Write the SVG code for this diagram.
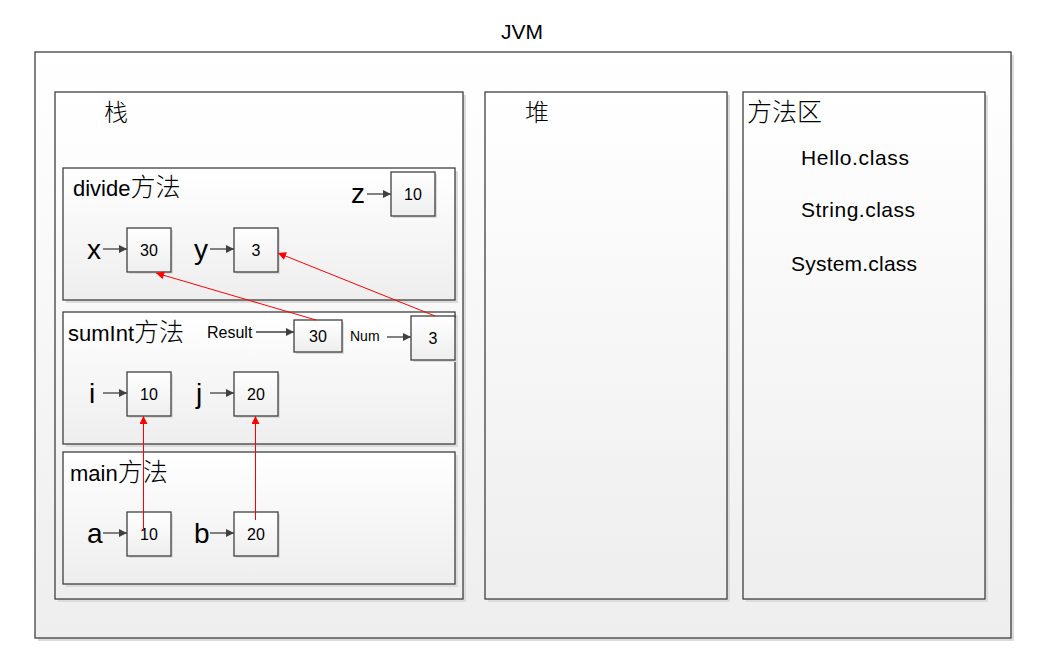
<svg xmlns="http://www.w3.org/2000/svg" width="1060" height="664" viewBox="0 0 1060 664">
<defs>
<linearGradient id="g" x1="0" y1="0" x2="0" y2="1">
<stop offset="0" stop-color="#ffffff"/>
<stop offset="1" stop-color="#eeeeee"/>
</linearGradient>
<marker id="ah" viewBox="0 0 10 10" refX="10" refY="5" markerWidth="11" markerHeight="8" orient="auto" markerUnits="userSpaceOnUse">
<path d="M0,0 L10,5 L0,10 z" fill="#404040"/>
</marker>
<marker id="rh" viewBox="0 0 10 10" refX="10" refY="5" markerWidth="11" markerHeight="8" orient="auto" markerUnits="userSpaceOnUse">
<path d="M0,0 L10,5 L0,10 z" fill="#ff0000"/>
</marker>
</defs>
<style>
.box{fill:url(#g);stroke:#404040;stroke-width:1.3}
.sh{fill:#dcdcdc}
.t{font-family:"Liberation Sans","Noto Sans CJK SC",sans-serif;fill:#000}
.c{font-family:"Noto Sans CJK SC",sans-serif;fill:#000;font-weight:300}
.cj{font-family:"Noto Sans CJK SC",sans-serif;font-size:25px;font-weight:300}
.lbl{font-family:"Liberation Sans",sans-serif;font-size:28px;fill:#000}
.num{font-family:"Liberation Sans",sans-serif;font-size:16px;fill:#000;text-anchor:middle}
.la{stroke:#404040;stroke-width:1.3;fill:none;marker-end:url(#ah)}
.ra{stroke:#ff0000;stroke-width:1;fill:none;marker-end:url(#rh)}
</style>
<rect width="1060" height="664" fill="#ffffff"/>
<text class="t" x="522" y="39" font-size="21" text-anchor="middle">JVM</text>

<g id="jvm">
<rect class="sh" x="38" y="55" width="976" height="586"/>
<rect class="box" x="35" y="52" width="976" height="586"/>
</g>

<g id="stack">
<rect class="sh" x="58" y="95" width="408" height="507"/>
<rect class="box" x="55" y="92" width="408" height="507"/>
<text class="c" x="104" y="121" font-size="24">栈</text>
</g>

<g id="heap">
<rect class="sh" x="488" y="95" width="242" height="507"/>
<rect class="box" x="485" y="92" width="242" height="507"/>
<text class="c" x="525" y="121" font-size="24">堆</text>
</g>

<g id="methodarea">
<rect class="sh" x="746" y="95" width="242" height="507"/>
<rect class="box" x="743" y="92" width="242" height="507"/>
<text class="c" x="747" y="121" font-size="25">方法区</text>
<text class="t" x="855" y="165" font-size="21" text-anchor="middle" textLength="108">Hello.class</text>
<text class="t" x="858" y="217" font-size="21" text-anchor="middle" textLength="114">String.class</text>
<text class="t" x="854" y="271" font-size="21" text-anchor="middle" textLength="126">System.class</text>
</g>

<g id="divide">
<rect class="sh" x="66" y="171" width="392" height="132"/>
<rect class="box" x="63" y="168" width="392" height="132"/>
<text class="t" x="73" y="196" font-size="22">divide<tspan class="cj">方法</tspan></text>
</g>

<g id="sumInt">
<rect class="sh" x="66" y="315" width="392" height="132"/>
<rect class="box" x="63" y="312" width="392" height="132"/>
<text class="t" x="68" y="341" font-size="22">sumInt<tspan class="cj">方法</tspan></text>
</g>

<g id="main">
<rect class="sh" x="66" y="455" width="392" height="132"/>
<rect class="box" x="63" y="452" width="392" height="132"/>
<text class="t" x="70" y="481" font-size="22">main<tspan class="cj">方法</tspan></text>
</g>

<g id="var-z">
<text class="lbl" x="351" y="203">z</text>
<rect class="sh" x="393" y="174" width="44" height="44"/>
<rect class="box" x="391" y="172" width="44" height="44"/>
<text class="num" x="413" y="200">10</text>
</g>
<g id="var-x">
<text class="lbl" x="87" y="259">x</text>
<rect class="sh" x="129" y="230" width="44" height="44"/>
<rect class="box" x="127" y="228" width="44" height="44"/>
<text class="num" x="149" y="256">30</text>
</g>
<g id="var-y">
<text class="lbl" x="194" y="259">y</text>
<rect class="sh" x="236" y="230" width="44" height="44"/>
<rect class="box" x="234" y="228" width="44" height="44"/>
<text class="num" x="256" y="256">3</text>
</g>
<g id="var-result">
<text class="t" x="207" y="338" font-size="16">Result</text>
<rect class="sh" x="296" y="322" width="48" height="32"/>
<rect class="box" x="294" y="320" width="48" height="32"/>
<text class="num" x="318" y="342" font-size="17">30</text>
</g>
<g id="var-num">
<text class="t" x="350" y="341" font-size="14">Num</text>
<rect class="sh" x="413" y="318" width="44" height="44"/>
<rect class="box" x="411" y="316" width="44" height="44"/>
<text class="num" x="433" y="344">3</text>
</g>
<g id="var-i">
<text class="lbl" x="89" y="403">i</text>
<rect class="sh" x="129" y="374" width="44" height="44"/>
<rect class="box" x="127" y="372" width="44" height="44"/>
<text class="num" x="149" y="400">10</text>
</g>
<g id="var-j">
<text class="lbl" x="196" y="403">j</text>
<rect class="sh" x="236" y="374" width="44" height="44"/>
<rect class="box" x="234" y="372" width="44" height="44"/>
<text class="num" x="256" y="400">20</text>
</g>
<g id="var-a">
<text class="lbl" x="87" y="543">a</text>
<rect class="sh" x="129" y="514" width="44" height="44"/>
<rect class="box" x="127" y="512" width="44" height="44"/>
<text class="num" x="149" y="540">10</text>
</g>
<g id="var-b">
<text class="lbl" x="194" y="543">b</text>
<rect class="sh" x="236" y="514" width="44" height="44"/>
<rect class="box" x="234" y="512" width="44" height="44"/>
<text class="num" x="256" y="540">20</text>
</g>

<g id="connectors">
<line class="la" x1="367" y1="194" x2="391" y2="194"/>
<line class="la" x1="103" y1="249" x2="127" y2="249"/>
<line class="la" x1="210" y1="249" x2="234" y2="249"/>
<line class="la" x1="256" y1="332" x2="294" y2="332"/>
<line class="la" x1="387" y1="337" x2="411" y2="337"/>
<line class="la" x1="103" y1="393" x2="127" y2="393"/>
<line class="la" x1="210" y1="393" x2="234" y2="393"/>
<line class="la" x1="103" y1="533" x2="127" y2="533"/>
<line class="la" x1="210" y1="533" x2="234" y2="533"/>
<line class="ra" x1="316" y1="320" x2="156" y2="273"/>
<line class="ra" x1="435" y1="316" x2="278" y2="253"/>
<line class="ra" x1="143.5" y1="531" x2="143.5" y2="416"/>
<line class="ra" x1="255.5" y1="520" x2="255.5" y2="416"/>
</g>
</svg>
